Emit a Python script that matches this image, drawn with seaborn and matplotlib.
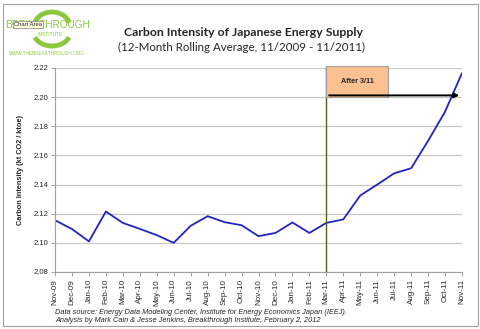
import matplotlib
matplotlib.use("Agg")
import matplotlib.pyplot as plt
import seaborn as sns
import pandas as pd
import numpy as np
from matplotlib.patches import Rectangle, Arc

months = ["Nov-09", "Dec-09", "Jan-10", "Feb-10", "Mar-10", "Apr-10", "May-10", "Jun-10",
          "Jul-10", "Aug-10", "Sep-10", "Oct-10", "Nov-10", "Dec-10", "Jan-11", "Feb-11",
          "Mar-11", "Apr-11", "May-11", "Jun-11", "Jul-11", "Aug-11", "Sep-11", "Oct-11", "Nov-11"]
intensity = [2.1155, 2.1095, 2.1010, 2.1215, 2.1137, 2.1096, 2.1053, 2.1000,
             2.1117, 2.1183, 2.1142, 2.1121, 2.1046, 2.1068, 2.1140, 2.1068,
             2.1137, 2.1161, 2.1325, 2.1400, 2.1477, 2.1512, 2.1700, 2.1900, 2.2165]
yticks = [2.08, 2.10, 2.12, 2.14, 2.16, 2.18, 2.20, 2.22]
event_label = "After 3/11"
event_month = "Mar-11"

df = pd.DataFrame({"idx": np.arange(len(months)), "month": months, "value": intensity})

sns.set_theme(style="white")
plt.rcParams["font.family"] = ["Liberation Sans", "DejaVu Sans"]

fig = plt.figure(figsize=(4.8, 3.29), dpi=100)
fig.patch.set_facecolor("white")
ax = fig.add_axes([55/480, 1-272/329, (462-55)/480, (272-68)/329])

sns.lineplot(data=df, x="idx", y="value", ax=ax, color="#2323C0", linewidth=1.3)

ax.set_ylim(2.08, 2.22)
ax.set_xlim(0, len(months) - 1)
ax.set_yticks(yticks)
ax.set_yticklabels([f"{v:.2f}" for v in yticks], fontsize=5.5)
ax.set_xticks(df["idx"])
ax.set_xticklabels(months, rotation=90, fontsize=5.8)
ax.yaxis.grid(True, color="#C8C8C8", linewidth=0.9)
ax.set_axisbelow(True)
for s in ["top", "right"]:
    ax.spines[s].set_visible(False)
for s in ["left", "bottom"]:
    ax.spines[s].set_color("#A0A0A0")
    ax.spines[s].set_linewidth(0.8)
ax.tick_params(axis="both", which="major", length=3, width=0.7, color="#A0A0A0",
               direction="out", pad=2, bottom=True, left=True)
ax.set_xlabel("")
ax.set_ylabel("Carbon Intensity (kt CO2 / ktoe)", fontsize=5.3, fontweight="bold", labelpad=6.5)

ev = months.index(event_month)
ax.axvline(ev, color="#4F6228", linewidth=1.0, ymin=0, ymax=1.01, clip_on=False)
box_w = 3.65
ax.add_patch(Rectangle((ev, 2.2), box_w, 0.0215, facecolor="#FAC090", edgecolor="#A0A0A0",
                       linewidth=0.8, clip_on=False, zorder=3))
ax.text(ev + box_w/2, 2.2108, event_label, ha="center", va="center", fontsize=5.2,
        fontweight="bold", zorder=4)
ax.annotate("", xy=(len(months) - 1, 2.2012), xytext=(ev, 2.2012),
            arrowprops=dict(arrowstyle="-|>", color="black", lw=1.4, mutation_scale=7),
            annotation_clip=False, zorder=5)

fig.text(244/480, 1-32/329, "Carbon Intensity of Japanese Energy Supply", ha="center", va="center",
         fontsize=8.8, fontweight="bold", family=["Lato", "DejaVu Sans"])
fig.text(242/480, 1-47.5/329, "(12-Month Rolling Average, 11/2009 - 11/2011)", ha="center", va="center",
         fontsize=8.3, family=["Lato", "DejaVu Sans"])

fig.text(55/480, 1-312/329, "Data source: Energy Data Modeling Center, Institute for Energy Economics Japan (IEEJ).",
         ha="left", va="center", fontsize=5.3, style="italic")
fig.text(55/480, 1-320.5/329, "Analysis by Mark Cain & Jesse Jenkins, Breakthrough Institute, February 2, 2012",
         ha="left", va="center", fontsize=5.3, style="italic")

# logo
green = "#8DC63F"
fig.patches.append(Arc((52/480, 1-27/329), 36/480, 30/329, theta1=20, theta2=160,
                       transform=fig.transFigure, color=green, linewidth=3.5))
fig.patches.append(Arc((52/480, 1-33/329), 36/480, 26/329, theta1=200, theta2=340,
                       transform=fig.transFigure, color=green, linewidth=3.5))
fig.text(48/480, 1-25/329, "BREAKTHROUGH", ha="center", va="center", fontsize=7.2,
         color=green, family=["Liberation Sans Narrow", "Liberation Sans"])
fig.text(50/480, 1-35/329, "INSTITUTE", ha="center", va="center", fontsize=3.6, color=green)
fig.text(47/480, 1-53.5/329, "WWW.THEBREAKTHROUGH.ORG", ha="center", va="center", fontsize=3.4,
         color=green, family=["Liberation Sans Narrow", "Liberation Sans"])
fig.text(28/480, 1-24.5/329, "Chart Area", ha="center", va="center", fontsize=4.2,
         bbox=dict(boxstyle="square,pad=0.25", facecolor="#FFFFE1", edgecolor="#808080", linewidth=0.5))

# frame
fig.patches.append(Rectangle((3/480, 3/329), 475/480, 322/329, transform=fig.transFigure,
                             fill=False, edgecolor="#A0A0A0", linewidth=0.8))

fig.savefig("out.png", dpi=100)
